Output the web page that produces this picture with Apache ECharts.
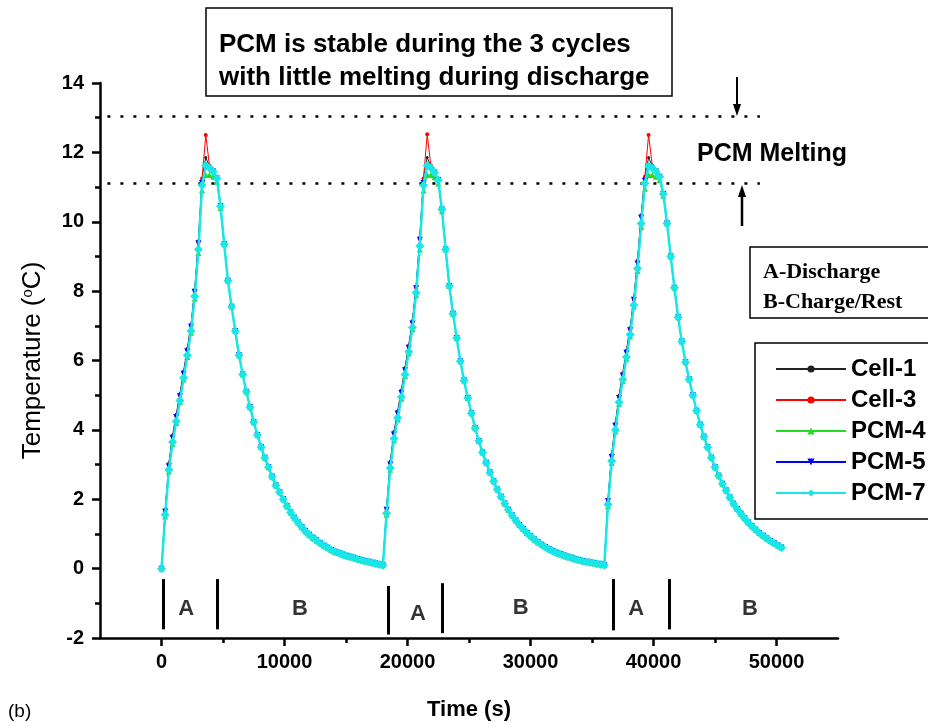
<!DOCTYPE html>
<html>
<head>
<meta charset="utf-8">
<script src="https://cdn.jsdelivr.net/npm/echarts@6/dist/echarts.min.js"></script>
<style>
html,body{margin:0;padding:0;background:#fff;}
#chart{width:928px;height:727px;}
</style>
</head>
<body>
<div id="chart"></div>
<script>
// ---- data ----
const timeS = [
0,300,600,900,1200,1500,1800,2100,2400,2700,
3000,3300,3600,3900,4200,4500,4800,5100,5400,5700,
6000,6300,6600,6900,7200,7500,7800,8100,8400,8700,
9000,9300,9600,9900,10200,10500,10800,11100,11400,11700,
12000,12300,12600,12900,13200,13500,13800,14100,14400,14700,
15000,15300,15600,15900,16200,16500,16800,17100,17400,17700,
18000,18300,18600,18900,19200,19500,19800,20100,20400,20700,
21000,21300,21600,21900,22200,22500,22800,23100,23400,23700,
24000,24300,24600,24900,25200,25500,25800,26100,26400,26700,
27000,27300,27600,27900,28200,28500,28800,29100,29400,29700,
30000,30300,30600,30900,31200,31500,31800,32100,32400,32700,
33000,33300,33600,33900,34200,34500,34800,35100,35400,35700,
36000,36300,36600,36900,37200,37500,37800,38100,38400,38700,
39000,39300,39600,39900,40200,40500,40800,41100,41400,41700,
42000,42300,42600,42900,43200,43500,43800,44100,44400,44700,
45000,45300,45600,45900,46200,46500,46800,47100,47400,47700,
48000,48300,48600,48900,49200,49500,49800,50100,50400
];

const cell1 = [
0.00,1.70,3.05,3.85,4.45,5.05,5.70,6.35,7.05,8.05,
9.45,11.25,11.85,11.60,11.45,11.25,10.45,9.35,8.30,7.55,
6.85,6.15,5.60,5.10,4.65,4.22,3.85,3.50,3.20,2.92,
2.65,2.40,2.20,2.00,1.80,1.62,1.47,1.33,1.20,1.08,
0.98,0.89,0.81,0.73,0.66,0.60,0.54,0.49,0.45,0.41,
0.37,0.34,0.31,0.28,0.25,0.22,0.20,0.17,0.15,0.12,
0.10,1.75,3.10,3.95,4.55,5.15,5.80,6.45,7.15,8.15,
9.55,11.25,11.85,11.60,11.42,11.20,10.35,9.20,8.15,7.35,
6.65,5.98,5.42,4.92,4.48,4.05,3.68,3.35,3.05,2.77,
2.52,2.28,2.07,1.88,1.70,1.53,1.39,1.26,1.14,1.03,
0.93,0.84,0.76,0.69,0.62,0.56,0.51,0.46,0.42,0.38,
0.34,0.31,0.28,0.25,0.22,0.20,0.18,0.16,0.14,0.12,
0.10,2.00,3.30,4.20,5.00,5.65,6.30,6.95,7.80,8.90,
10.20,11.30,11.85,11.60,11.45,11.30,10.80,9.95,9.00,8.10,
7.25,6.55,5.95,5.45,5.00,4.55,4.15,3.80,3.50,3.20,
2.92,2.68,2.45,2.25,2.05,1.87,1.72,1.58,1.45,1.33,
1.22,1.12,1.03,0.95,0.87,0.80,0.73,0.67,0.61
];

const cell3 = [
0.00,1.65,3.00,3.80,4.40,5.00,5.65,6.30,7.00,8.00,
9.40,11.25,12.50,11.62,11.45,11.25,10.45,9.35,8.30,7.55,
6.85,6.15,5.60,5.10,4.65,4.22,3.85,3.50,3.20,2.92,
2.65,2.40,2.20,2.00,1.80,1.62,1.47,1.33,1.20,1.08,
0.98,0.89,0.81,0.73,0.66,0.60,0.54,0.49,0.45,0.41,
0.37,0.34,0.31,0.28,0.25,0.22,0.20,0.17,0.15,0.12,
0.10,1.70,3.05,3.90,4.50,5.10,5.75,6.40,7.10,8.10,
9.50,11.25,12.52,11.62,11.42,11.20,10.35,9.20,8.15,7.35,
6.65,5.98,5.42,4.92,4.48,4.05,3.68,3.35,3.05,2.77,
2.52,2.28,2.07,1.88,1.70,1.53,1.39,1.26,1.14,1.03,
0.93,0.84,0.76,0.69,0.62,0.56,0.51,0.46,0.42,0.38,
0.34,0.31,0.28,0.25,0.22,0.20,0.18,0.16,0.14,0.12,
0.10,1.95,3.25,4.15,4.95,5.60,6.25,6.90,7.75,8.85,
10.15,11.30,12.50,11.62,11.45,11.30,10.80,9.95,9.00,8.10,
7.25,6.55,5.95,5.45,5.00,4.55,4.15,3.80,3.50,3.20,
2.92,2.68,2.45,2.25,2.05,1.87,1.72,1.58,1.45,1.33,
1.22,1.12,1.03,0.95,0.87,0.80,0.73,0.67,0.61
];

const pcm4 = [
0.00,1.50,2.80,3.60,4.20,4.80,5.45,6.10,6.80,7.78,
9.10,10.90,11.35,11.35,11.30,11.15,10.40,9.35,8.30,7.55,
6.85,6.15,5.60,5.10,4.65,4.22,3.85,3.50,3.20,2.92,
2.65,2.40,2.20,2.00,1.80,1.62,1.47,1.33,1.20,1.08,
0.98,0.89,0.81,0.73,0.66,0.60,0.54,0.49,0.45,0.41,
0.37,0.34,0.31,0.28,0.25,0.22,0.20,0.17,0.15,0.12,
0.10,1.55,2.85,3.70,4.30,4.90,5.55,6.20,6.90,7.88,
9.20,10.90,11.35,11.35,11.28,11.10,10.30,9.20,8.15,7.35,
6.65,5.98,5.42,4.92,4.48,4.05,3.68,3.35,3.05,2.77,
2.52,2.28,2.07,1.88,1.70,1.53,1.39,1.26,1.14,1.03,
0.93,0.84,0.76,0.69,0.62,0.56,0.51,0.46,0.42,0.38,
0.34,0.31,0.28,0.25,0.22,0.20,0.18,0.16,0.14,0.12,
0.10,1.80,3.05,3.95,4.75,5.40,6.05,6.70,7.55,8.58,
9.85,10.95,11.35,11.35,11.30,11.20,10.75,9.95,9.00,8.10,
7.25,6.55,5.95,5.45,5.00,4.55,4.15,3.80,3.50,3.20,
2.92,2.68,2.45,2.25,2.05,1.87,1.72,1.58,1.45,1.33,
1.22,1.12,1.03,0.95,0.87,0.80,0.73,0.67,0.61
];

const pcm5 = [
0.00,1.65,2.95,3.77,4.37,4.97,5.62,6.27,6.97,7.98,
9.38,11.12,11.58,11.52,11.45,11.25,10.45,9.35,8.30,7.55,
6.85,6.15,5.60,5.10,4.65,4.22,3.85,3.50,3.20,2.92,
2.65,2.40,2.20,2.00,1.80,1.62,1.47,1.33,1.20,1.08,
0.98,0.89,0.81,0.73,0.66,0.60,0.54,0.49,0.45,0.41,
0.37,0.34,0.31,0.28,0.25,0.22,0.20,0.17,0.15,0.12,
0.10,1.70,3.00,3.87,4.47,5.07,5.72,6.37,7.07,8.08,
9.48,11.12,11.58,11.52,11.42,11.20,10.35,9.20,8.15,7.35,
6.65,5.98,5.42,4.92,4.48,4.05,3.68,3.35,3.05,2.77,
2.52,2.28,2.07,1.88,1.70,1.53,1.39,1.26,1.14,1.03,
0.93,0.84,0.76,0.69,0.62,0.56,0.51,0.46,0.42,0.38,
0.34,0.31,0.28,0.25,0.22,0.20,0.18,0.16,0.14,0.12,
0.10,1.95,3.22,4.12,4.92,5.57,6.22,6.87,7.75,8.80,
10.12,11.18,11.58,11.52,11.45,11.30,10.80,9.95,9.00,8.10,
7.25,6.55,5.95,5.45,5.00,4.55,4.15,3.80,3.50,3.20,
2.92,2.68,2.45,2.25,2.05,1.87,1.72,1.58,1.45,1.33,
1.22,1.12,1.03,0.95,0.87,0.80,0.73,0.67,0.61
];

const pcm7 = [
0.00,1.55,2.85,3.65,4.25,4.85,5.50,6.15,6.85,7.85,
9.20,11.05,11.62,11.55,11.45,11.25,10.45,9.35,8.30,7.55,
6.85,6.15,5.60,5.10,4.65,4.22,3.85,3.50,3.20,2.92,
2.65,2.40,2.20,2.00,1.80,1.62,1.47,1.33,1.20,1.08,
0.98,0.89,0.81,0.73,0.66,0.60,0.54,0.49,0.45,0.41,
0.37,0.34,0.31,0.28,0.25,0.22,0.20,0.17,0.15,0.12,
0.10,1.60,2.90,3.75,4.35,4.95,5.60,6.25,6.95,7.95,
9.30,11.05,11.62,11.55,11.42,11.20,10.35,9.20,8.15,7.35,
6.65,5.98,5.42,4.92,4.48,4.05,3.68,3.35,3.05,2.77,
2.52,2.28,2.07,1.88,1.70,1.53,1.39,1.26,1.14,1.03,
0.93,0.84,0.76,0.69,0.62,0.56,0.51,0.46,0.42,0.38,
0.34,0.31,0.28,0.25,0.22,0.20,0.18,0.16,0.14,0.12,
0.10,1.85,3.10,4.00,4.80,5.45,6.10,6.75,7.60,8.65,
9.95,11.10,11.60,11.55,11.45,11.30,10.80,9.95,9.00,8.10,
7.25,6.55,5.95,5.45,5.00,4.55,4.15,3.80,3.50,3.20,
2.92,2.68,2.45,2.25,2.05,1.87,1.72,1.58,1.45,1.33,
1.22,1.12,1.03,0.95,0.87,0.80,0.73,0.67,0.61
];

const seriesNames = ['Cell-1', 'Cell-3', 'PCM-4', 'PCM-5', 'PCM-7'];
const xMajorTicks = [0, 10000, 20000, 30000, 40000, 50000];
const xMinorTicks = [5000, 15000, 25000, 35000, 45000];
const meltLevels = [13.05, 11.1];                 // dotted lines (°C)
const meltSpan = [-4400, 48650];                  // time extent of dotted lines
const phaseBars = [                               // [time, top °C, bottom °C]
  [150, -0.3, -1.75], [4550, -0.3, -1.75],
  [18420, -0.5, -1.9], [22810, -0.42, -1.86],
  [36700, -0.3, -1.78], [41250, -0.3, -1.75]
];
const phaseLabels = [                             // [text, time, °C]
  ['A', 2000, -1.15], ['B', 11250, -1.15],
  ['A', 20850, -1.3], ['B', 29200, -1.13],
  ['A', 38600, -1.16], ['B', 47850, -1.16]
];

// ---- chart ----
const SANS = 'Liberation Sans, Arial, Helvetica, sans-serif';
const SERIF = 'Liberation Serif, Times New Roman, serif';
const chart = echarts.init(document.getElementById('chart'));

const styles = [
  { color: '#222222', symbol: 'circle', size: 3, rotate: 0 },
  { color: '#ff0000', symbol: 'circle', size: 4, rotate: 0 },
  { color: '#22dd22', symbol: 'triangle', size: 6, rotate: 0 },
  { color: '#0000ff', symbol: 'triangle', size: 6, rotate: 180 },
  { color: '#19e6e6', symbol: 'diamond', size: 9, rotate: 0 }
];
const values = [cell1, cell3, pcm4, pcm5, pcm7];

const dataSeries = seriesNames.map((name, si) => ({
  name: name,
  type: 'line',
  data: timeS.map((t, i) => [t, values[si][i]]),
  showAllSymbol: true,
  symbol: styles[si].symbol,
  symbolSize: styles[si].size,
  symbolRotate: styles[si].rotate,
  itemStyle: { color: styles[si].color },
  lineStyle: { color: styles[si].color, width: si === 4 ? 2.5 : 1 },
  z: 2 + si
}));

const annotationSeries = {
  name: 'annot',
  type: 'line',
  data: [],
  silent: true,
  markLine: {
    silent: true,
    symbol: ['none', 'none'],
    label: { show: false },
    animation: false,
    data: meltLevels.map(v => [
      { coord: [meltSpan[0], v], lineStyle: { color: '#000', width: 2.5, type: [3, 10] } },
      { coord: [meltSpan[1], v] }
    ]).concat(phaseBars.map(b => [
      { coord: [b[0], b[1]], lineStyle: { color: '#000', width: 3, type: 'solid' } },
      { coord: [b[0], b[2]] }
    ]))
  }
};

const labelSeries = {
  name: 'phase',
  type: 'scatter',
  silent: true,
  symbolSize: 1,
  itemStyle: { color: 'rgba(0,0,0,0)' },
  data: phaseLabels.map(p => ({ value: [p[1], p[2]], name: p[0] })),
  label: {
    show: true, position: 'inside', formatter: '{b}',
    fontFamily: SANS, fontWeight: 'bold', fontSize: 22, color: '#000'
  }
};

chart.setOption({
  animation: false,
  backgroundColor: '#ffffff',
  grid: { left: 100, top: 83, right: 90, bottom: 89, outerBoundsMode: 'none', containLabel: false },
  legend: {
    data: seriesNames,
    orient: 'vertical',
    left: 770, top: 352,
    itemWidth: 70, itemHeight: 9, itemGap: 7,
    textStyle: { fontFamily: SANS, fontWeight: 'bold', fontSize: 24, color: '#000', lineHeight: 22 },
    z: 20
  },
  xAxis: [{
    type: 'value', min: -5000, max: 55000, interval: 5000,
    name: 'Time (s)', nameLocation: 'middle', nameGap: 61,
    nameTextStyle: { fontFamily: SANS, fontWeight: 'bold', fontSize: 22, color: '#000' },
    axisLine: { onZero: false, lineStyle: { color: '#000', width: 2.5 } },
    axisTick: { length: 8, lineStyle: { color: '#000', width: 2.5 }, customValues: xMajorTicks },
    axisLabel: {
      customValues: xMajorTicks,
      formatter: v => (v % 10000 === 0 && v >= 0 ? String(v) : ''),
      fontFamily: SANS, fontWeight: 'bold', fontSize: 20, color: '#000', margin: 14
    },
    splitLine: { show: false }
  }, {
    type: 'value', min: -5000, max: 55000, interval: 5000, position: 'bottom', gridIndex: 0,
    axisLine: { show: false, onZero: false },
    axisTick: { length: 5, lineStyle: { color: '#000', width: 2.5 }, customValues: xMinorTicks },
    axisLabel: { show: false },
    splitLine: { show: false }
  }],
  yAxis: {
    type: 'value', min: -2, max: 14, interval: 2,
    name: 'Temperature ({sup|o}C)', nameLocation: 'middle', nameGap: 54,
    nameTextStyle: {
      fontFamily: SANS, fontSize: 26, color: '#000',
      rich: { sup: { fontFamily: SANS, fontSize: 15, color: '#000', padding: [0, 0, 11, 0] } }
    },
    axisLine: { show: true, onZero: false, lineStyle: { color: '#000', width: 2.5 } },
    axisTick: { show: true, length: 8, lineStyle: { color: '#000', width: 2.5 } },
    minorTick: { show: true, splitNumber: 2, length: 5, lineStyle: { color: '#000', width: 2.5 } },
    axisLabel: { fontFamily: SANS, fontWeight: 'bold', fontSize: 20, color: '#000', margin: 16 },
    splitLine: { show: false }
  },
  graphic: [
    { type: 'rect', shape: { x: 206, y: 8, width: 466, height: 88 },
      style: { fill: '#fff', stroke: '#000', lineWidth: 1.5 }, z: 10 },
    { type: 'text', x: 219, y: 45, z: 11,
      style: { text: 'PCM is stable during the 3 cycles', fontFamily: SANS, fontWeight: 'bold', fontSize: 26, fill: '#000', verticalAlign: 'middle' } },
    { type: 'text', x: 219, y: 78, z: 11,
      style: { text: 'with little melting during discharge', fontFamily: SANS, fontWeight: 'bold', fontSize: 26, fill: '#000', verticalAlign: 'middle' } },
    { type: 'text', x: 697, y: 154, z: 11,
      style: { text: 'PCM Melting', fontFamily: SANS, fontWeight: 'bold', fontSize: 25, fill: '#000', verticalAlign: 'middle' } },
    { type: 'line', shape: { x1: 737, y1: 77, x2: 737, y2: 106 }, style: { stroke: '#000', lineWidth: 2 }, z: 11 },
    { type: 'polygon', shape: { points: [[733, 104], [741, 104], [737, 116]] }, style: { fill: '#000' }, z: 11 },
    { type: 'line', shape: { x1: 742, y1: 226, x2: 742, y2: 195 }, style: { stroke: '#000', lineWidth: 2.5 }, z: 11 },
    { type: 'polygon', shape: { points: [[738, 197], [746, 197], [742, 185]] }, style: { fill: '#000' }, z: 11 },
    { type: 'rect', shape: { x: 750, y: 247, width: 200, height: 71 },
      style: { fill: '#fff', stroke: '#000', lineWidth: 1.5 }, z: 10 },
    { type: 'text', x: 763, y: 272, z: 11,
      style: { text: 'A-Discharge', fontFamily: SERIF, fontWeight: 'bold', fontSize: 22, fill: '#000', verticalAlign: 'middle' } },
    { type: 'text', x: 763, y: 302, z: 11,
      style: { text: 'B-Charge/Rest', fontFamily: SERIF, fontWeight: 'bold', fontSize: 22, fill: '#000', verticalAlign: 'middle' } },
    { type: 'rect', shape: { x: 755, y: 343, width: 200, height: 176 },
      style: { fill: '#fff', stroke: '#000', lineWidth: 1.5 }, z: 9 },
    { type: 'text', x: 8, y: 712, z: 11,
      style: { text: '(b)', fontFamily: SANS, fontSize: 19, fill: '#000', verticalAlign: 'middle' } }
  ],
  series: [annotationSeries].concat(dataSeries).concat([labelSeries])
});
</script>
</body>
</html>
